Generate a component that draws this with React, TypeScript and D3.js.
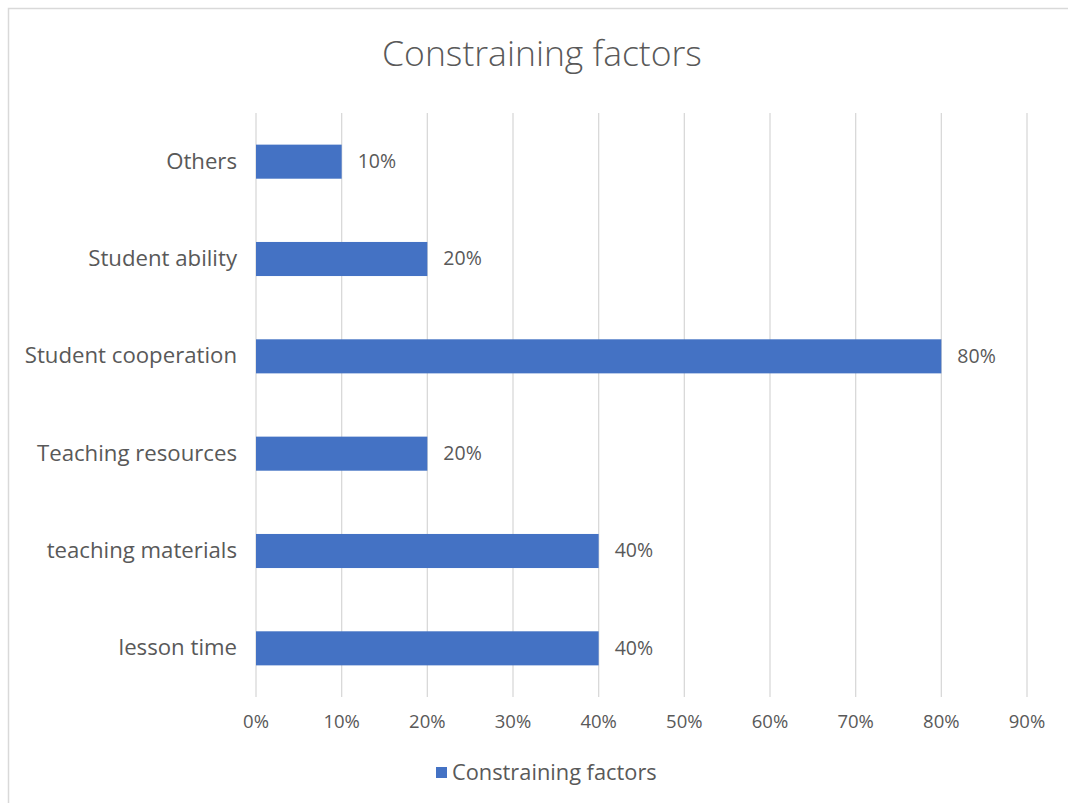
import React from "react";
import * as d3 from "d3";

const categories = ["Others", "Student ability", "Student cooperation", "Teaching resources", "teaching materials", "lesson time"];
const values = [0.1, 0.2, 0.8, 0.2, 0.4, 0.4];
const ticks = [0, 0.1, 0.2, 0.3, 0.4, 0.5, 0.6, 0.7, 0.8, 0.9];
const title = "Constraining factors";
const seriesName = "Constraining factors";

const W = 1068;
const H = 803;
const FONT = "'Open Sans', Roboto, sans-serif";
const TEXT = "#595959";
const GRID = "#d9d9d9";
const BAR = "#4472c4";

export default function App() {
  const x = d3.scaleLinear().domain([0, 0.9]).range([256, 1027]);
  const y = d3.scaleBand<string>().domain(categories).range([113, 697]).paddingInner(0.65).paddingOuter(0.325);
  const fmt = d3.format(".0%");
  return (
    <svg width={W} height={H} style={{ position: "absolute", left: 0, top: 0, background: "#fff" }} fontFamily={FONT}>
      <rect x={8.5} y={8.5} width={W + 10} height={H + 10} fill="#fff" stroke={GRID} strokeWidth={1.5} />
      <text x={542} y={56} textAnchor="middle" dominantBaseline="middle" fontSize={35.5} fill={TEXT} fontWeight={300}>
        {title}
      </text>
      {ticks.map((t) => (
        <g key={t}>
          <line x1={x(t)} x2={x(t)} y1={113} y2={697} stroke={GRID} strokeWidth={1.3} />
          <text x={x(t)} y={723} textAnchor="middle" dominantBaseline="middle" fontSize={18.5} fill={TEXT}>
            {fmt(t)}
          </text>
        </g>
      ))}
      {categories.map((c, i) => (
        <g key={c}>
          <rect x={x(0)} y={y(c)!} width={x(values[i]) - x(0)} height={y.bandwidth()} fill={BAR} />
          <text x={237} y={y(c)! + y.bandwidth() / 2 + 1} textAnchor="end" dominantBaseline="middle" fontSize={22.2} fill={TEXT}>
            {c}
          </text>
          <text x={x(values[i]) + 16} y={y(c)! + y.bandwidth() / 2 + 1} dominantBaseline="middle" fontSize={19.5} fill={TEXT}>
            {fmt(values[i])}
          </text>
        </g>
      ))}
      <rect x={436} y={767} width={11} height={11} fill={BAR} />
      <text x={452} y={774} dominantBaseline="middle" fontSize={21.8} fill={TEXT}>
        {seriesName}
      </text>
    </svg>
  );
}
